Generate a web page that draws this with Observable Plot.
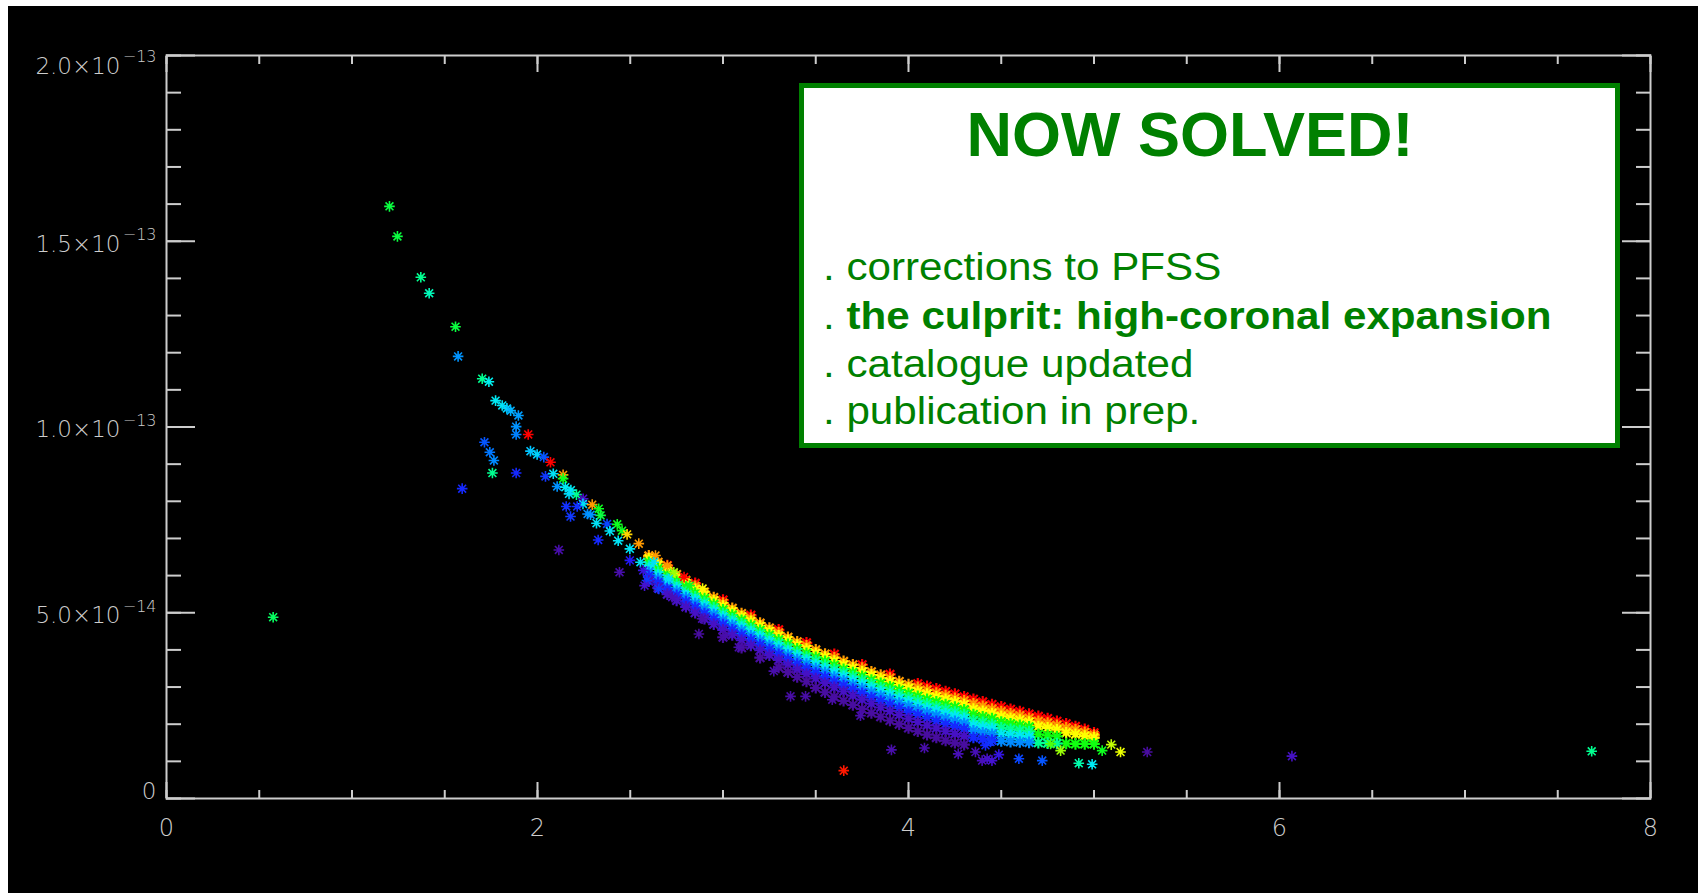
<!DOCTYPE html>
<html><head><meta charset="utf-8">
<script src="https://cdn.jsdelivr.net/npm/d3@7"></script>
<script src="https://cdn.jsdelivr.net/npm/@observablehq/plot@0.6"></script>
<style>
html,body{margin:0;padding:0;background:#fff;overflow:hidden;width:1698px;height:893px;}
#chart{position:absolute;left:8px;top:6px;width:1690px;height:887px;background:#000;}
#note{position:absolute;left:0;top:0;}
</style></head><body>
<div id="chart"></div>
<svg id="note" width="1698" height="893"></svg>
<script>
// ---------- data (y in units of 1e-14) ----------
const bandX = [2.60,2.65,2.70,2.75,2.80,2.85,2.90,2.95,3.00,3.05,
  3.10,3.15,3.20,3.25,3.30,3.35,3.40,3.45,3.50,3.55,
  3.60,3.65,3.70,3.75,3.80,3.85,3.90,3.95,4.00,4.05,
  4.10,4.15,4.20,4.25,4.30,4.35,4.40,4.45,4.50,4.55,
  4.60,4.65,4.70,4.75,4.80,4.85,4.90,4.95,5.00];
const bandRed = [null,null,6.27,null,null,5.79,null,null,5.34,null,
  null,4.93,null,null,4.54,null,null,4.19,null,null,
  3.88,null,null,3.60,null,null,3.34,null,null,3.09,
  3.02,2.95,2.88,2.81,2.74,2.67,2.60,2.53,2.47,2.40,
  2.34,2.27,2.21,2.15,2.08,2.01,1.94,1.86,1.77];
const bandOrange = [6.53,6.36,6.19,6.03,5.87,5.71,5.56,5.41,5.26,5.12,
  4.98,4.85,4.72,4.59,4.46,4.34,4.22,4.11,4.00,3.89,
  3.79,3.69,3.60,3.51,3.41,3.32,3.24,3.15,3.07,2.99,
  2.92,2.84,2.77,2.70,2.63,2.55,2.48,2.41,2.34,2.28,
  2.23,2.16,2.08,2.03,1.97,1.90,1.85,1.78,1.71];
const bandYellow = [6.46,6.29,6.12,5.95,5.79,5.63,5.48,5.33,5.18,5.04,
  4.90,4.77,4.64,4.51,4.38,4.26,4.13,4.02,3.91,3.81,
  3.70,3.60,3.51,3.41,3.32,3.23,3.14,3.05,2.97,2.88,
  2.81,2.74,2.67,2.60,2.53,2.41,2.35,2.29,2.21,2.16,
  2.11,2.06,1.94,1.90,1.85,1.77,1.73,1.68,1.64];
const bandGreen = [6.36,6.19,6.02,5.85,5.69,5.53,5.38,5.23,5.08,4.94,
  4.80,4.66,4.53,4.40,4.27,4.15,4.03,3.91,3.80,3.69,
  3.59,3.48,3.39,3.29,3.19,3.10,3.01,2.92,2.83,2.75,
  2.67,2.60,2.53,2.46,2.39,2.26,2.20,2.15,2.06,2.01,
  1.97,1.93,1.73,1.70,1.67,1.48,1.47,1.47,1.47];
const bandTeal = [6.27,6.09,5.92,5.76,5.59,5.43,5.28,5.13,4.98,4.84,
  4.70,4.57,4.44,4.31,4.18,4.05,3.93,3.81,3.70,3.59,
  3.48,3.38,3.28,3.18,3.08,2.98,2.89,2.80,2.71,2.63,
  2.55,2.47,2.40,2.33,2.26,2.10,2.05,2.00,1.90,1.86,
  1.83,1.80,1.50,1.49,1.48,null,null,null,null];
const bandCyan = [6.18,6.01,5.84,5.67,5.51,5.35,5.19,5.04,4.89,4.75,
  4.61,4.48,4.35,4.22,4.09,3.96,3.84,3.72,3.60,3.49,
  3.38,3.28,3.17,3.07,2.97,2.88,2.79,2.69,2.60,2.51,
  2.43,2.36,2.28,2.21,2.15,1.97,1.92,1.88,1.73,1.70,
  1.68,1.66,null,null,null,null,null,null,null];
const bandAzure = [6.09,5.92,5.75,5.58,5.41,5.25,5.10,4.95,4.80,4.66,
  4.52,4.38,4.25,4.12,3.99,3.86,3.74,3.62,3.50,3.39,
  3.27,3.17,3.06,2.96,2.86,2.76,2.67,2.57,2.48,2.39,
  2.31,2.23,2.15,2.08,2.02,1.82,1.77,1.73,1.55,1.53,
  1.52,1.51,null,null,null,null,null,null,null];
const bandBlue = [5.99,5.81,5.64,5.47,5.30,5.14,4.98,4.83,4.68,4.54,
  4.40,4.27,4.14,4.01,3.88,3.75,3.62,3.50,3.38,3.27,
  3.15,3.04,2.94,2.83,2.72,2.62,2.53,2.43,2.33,2.25,
  2.16,2.08,2.00,1.93,1.87,1.64,1.60,1.57,null,null,
  null,null,null,null,null,null,null,null,null];
const bandPurple = [5.85,5.67,5.50,5.33,5.16,5.00,4.84,4.69,4.54,4.40,
  4.26,4.12,3.99,3.86,3.73,3.60,3.47,3.35,3.23,3.11,
  2.99,2.88,2.77,2.66,2.55,2.45,2.35,2.25,2.15,2.06,
  1.97,1.89,1.81,1.74,1.68,null,null,null,null,null,
  null,null,null,null,null,null,null,null,null];
const bandViolet = [null,null,null,null,null,null,null,null,4.34,null,
  4.06,null,3.79,null,3.53,3.40,3.27,3.15,2.98,2.86,
  2.74,2.63,2.52,2.41,2.30,2.20,2.10,2.00,1.90,1.81,
  1.72,1.64,1.56,1.50,1.45,null,null,null,null,null,
  null,null,null,null,null,null,null,null,null];
// colour value of each band layer (0 = violet ... 1 = red), drawn in this order
const bandLayers = [[bandRed,1.00],[bandOrange,0.87],[bandYellow,0.75],[bandGreen,0.63],
  [bandTeal,0.55],[bandCyan,0.47],[bandAzure,0.36],[bandBlue,0.24],[bandPurple,0.10],[bandViolet,0.04]];

// individual points: [x, y (1e-14), colour value]
const scatterPts = [
  [0.575,4.88,0.58],[1.202,15.94,0.60],[1.245,15.13,0.60],[1.371,14.03,0.55],[1.416,13.60,0.52],
  [1.558,12.70,0.60],[1.572,11.90,0.37],[1.702,11.30,0.55],[1.738,11.22,0.48],[1.774,10.71,0.47],
  [1.810,10.58,0.46],[1.835,10.50,0.44],[1.855,10.44,0.40],[1.897,10.31,0.38],[1.885,10.01,0.37],
  [1.885,9.80,0.35],[1.950,9.80,1.00],[1.714,9.59,0.30],[1.743,9.32,0.34],[1.765,9.10,0.36],
  [1.757,8.76,0.55],[1.885,8.76,0.24],[1.594,8.34,0.24],[1.962,9.35,0.42],[1.998,9.26,0.44],
  [2.034,9.19,0.30],[2.070,9.05,1.00],[2.043,8.67,0.26],[2.085,8.74,0.46],[2.138,8.71,0.87],
  [2.138,8.61,0.62],[2.106,8.40,0.37],[2.150,8.38,0.47],[2.180,8.30,0.47],[2.210,8.18,0.55],
  [2.170,8.20,0.45],[2.246,8.07,0.10],[2.245,7.93,0.45],[2.295,7.91,0.87],[2.330,7.80,0.62],
  [2.340,7.62,0.60],[2.155,7.86,0.25],[2.178,7.59,0.26],[2.214,7.86,0.25],[2.270,7.66,0.36],
  [2.286,7.64,0.37],[2.318,7.41,0.46],[2.375,7.39,0.28],[2.430,7.38,0.62],[2.390,7.20,0.46],
  [2.456,7.21,0.62],[2.483,7.11,0.80],[2.435,6.94,0.46],[2.327,6.96,0.24],[2.115,6.69,0.06],
  [2.442,6.09,0.06],[2.498,6.72,0.46],[2.546,6.86,0.87],[2.498,6.41,0.20],[2.555,6.36,0.46],
  [2.570,6.14,0.15],[2.590,5.87,0.26],[2.636,6.54,0.87],[2.627,6.36,0.46],[2.577,5.73,0.12],
  [2.654,5.64,0.26],[2.700,6.27,0.87],[2.735,6.09,0.70],[2.708,5.91,0.46],[2.726,5.42,0.08],
  [2.790,5.96,1.00],[2.820,5.73,0.62],[2.890,5.65,0.76],[2.887,4.84,0.06],[2.870,4.43,0.04],
  [3.013,4.39,0.06],[3.085,4.07,0.06],[3.274,3.43,0.06],[3.364,2.75,0.05],[3.445,2.75,0.05],
  [3.589,2.66,0.05],[3.741,2.23,0.06],[3.908,1.31,0.06],[4.086,1.36,0.06],[4.268,1.20,0.08],
  [3.651,0.75,0.98],[4.361,1.25,0.08],[4.397,1.02,0.08],[4.424,1.07,0.10],[4.450,1.02,0.12],
  [4.487,1.18,0.16],[4.415,1.43,0.24],[4.442,1.52,0.26],[4.595,1.07,0.28],[4.721,1.02,0.30],
  [4.918,0.95,0.53],[4.990,0.92,0.47],[4.766,1.47,0.66],[4.820,1.29,0.70],[5.044,1.29,0.62],
  [5.093,1.45,0.72],[5.143,1.25,0.74],[5.287,1.25,0.04],[6.067,1.14,0.10],[7.683,1.27,0.55]
];

// colour table (IDL-like rainbow)
const colorStops = [0, 0.12, 0.22, 0.32, 0.42, 0.48, 0.55, 0.63, 0.75, 0.87, 1];
const colorRamp = ["#4a0a86","#4512d0","#1a1aff","#0064ff","#00c4ff","#00f0f0","#00ff90","#10ff10","#ffff00","#ff9a00","#ff0000"];

// axis ticks and labels
const xMajorTicks = [0, 2, 4, 6, 8];
const xMinorTicks = [0,0.5,1,1.5,2,2.5,3,3.5,4,4.5,5,5.5,6,6.5,7,7.5,8];
const yMajorTicks = [0, 5e-14, 1e-13, 1.5e-13, 2e-13];
const yMinorTicks = Array.from({length: 21}, (_, i) => i * 1e-14);
const yLabelValues = [5e-14, 1e-13, 1.5e-13];
const yLabelBase = ["5.0×10", "1.0×10", "1.5×10"];
const yLabelExp = ["−14", "−13", "−13"];
const yTopValue = [2e-13], yTopBase = ["2.0×10"], yTopExp = ["−13"];
const xLabels = ["0", "2", "4", "6", "8"];

const noteTitle = "NOW SOLVED!";
const noteLines = [". corrections to PFSS", ". the culprit: high-coronal expansion", ". catalogue updated", ". publication in prep."];
const noteBold = [false, true, false, false];

// ---------- build tables ----------
const bandRows = [];
for (const [ys, c] of bandLayers) {
  ys.forEach((v, i) => { if (v != null) bandRows.push({x: bandX[i], y: v * 1e-14, c}); });
}
const pointRows = scatterPts.map(([x, y, c]) => ({x, y: y * 1e-14, c}));

const star8 = {
  draw(ctx, size) {
    const r = Math.sqrt(size / Math.PI);
    const d = r * 0.74;
    ctx.moveTo(-r, 0); ctx.lineTo(r, 0);
    ctx.moveTo(0, -r); ctx.lineTo(0, r);
    ctx.moveTo(-d, -d); ctx.lineTo(d, d);
    ctx.moveTo(-d, d); ctx.lineTo(d, -d);
  }
};

const axisColor = "#cdcdcd";
const labelFont = "DejaVu Sans";
const tickOpts = {fill: "none", stroke: axisColor, strokeWidth: 2, label: null};

const chart = Plot.plot({
  width: 1690, height: 887,
  marginLeft: 158, marginRight: 48, marginTop: 49, marginBottom: 95,
  style: {background: "#000", color: axisColor, overflow: "visible"},
  x: {domain: [0, 8]},
  y: {domain: [0, 2e-13]},
  color: {type: "linear", domain: colorStops, range: colorRamp, legend: false},
  marks: [
    Plot.dot(bandRows, {x: "x", y: "y", stroke: "c", symbol: star8, r: 5.8, strokeWidth: 2.2}),
    Plot.dot(pointRows, {x: "x", y: "y", stroke: "c", symbol: star8, r: 5.3, strokeWidth: 1.6}),
    Plot.frame({stroke: axisColor, strokeWidth: 2}),
    Plot.axisY({...tickOpts, anchor: "left", ticks: yMinorTicks, tickSize: -15}),
    Plot.axisY({...tickOpts, anchor: "left", ticks: yMajorTicks, tickSize: -29}),
    Plot.axisY({...tickOpts, anchor: "right", ticks: yMinorTicks, tickSize: -15}),
    Plot.axisY({...tickOpts, anchor: "right", ticks: yMajorTicks, tickSize: -29}),
    Plot.axisX({...tickOpts, anchor: "bottom", ticks: xMinorTicks, tickSize: -8}),
    Plot.axisX({...tickOpts, anchor: "bottom", ticks: xMajorTicks, tickSize: -16}),
    Plot.axisX({...tickOpts, anchor: "top", ticks: xMinorTicks, tickSize: -8}),
    Plot.axisX({...tickOpts, anchor: "top", ticks: xMajorTicks, tickSize: -16}),
    // y tick labels
    Plot.text(yLabelValues, {x: 0, y: d => d, text: (d, i) => yLabelBase[i], textAnchor: "end", dx: -46, dy: 3,
      fontSize: 23, fontFamily: labelFont, fontWeight: 200, fill: axisColor}),
    Plot.text(yLabelValues, {x: 0, y: d => d, text: (d, i) => yLabelExp[i], textAnchor: "end", dx: -10, dy: -6,
      fontSize: 16, fontFamily: labelFont, fontWeight: 200, fill: axisColor}),
    Plot.text(yTopValue, {x: 0, y: d => d, text: (d, i) => yTopBase[i], textAnchor: "end", dx: -46, dy: 11,
      fontSize: 23, fontFamily: labelFont, fontWeight: 200, fill: axisColor}),
    Plot.text(yTopValue, {x: 0, y: d => d, text: (d, i) => yTopExp[i], textAnchor: "end", dx: -10, dy: 1,
      fontSize: 16, fontFamily: labelFont, fontWeight: 200, fill: axisColor}),
    Plot.text([0], {x: 0, y: d => d, text: () => "0", textAnchor: "end", dx: -10, dy: -7,
      fontSize: 23, fontFamily: labelFont, fontWeight: 200, fill: axisColor}),
    // x tick labels
    Plot.text(xMajorTicks, {x: d => d, y: 0, text: (d, i) => xLabels[i], dy: 30,
      fontSize: 24, fontFamily: labelFont, fontWeight: 200, fill: axisColor})
  ]
});
document.getElementById("chart").appendChild(chart);

// ---------- annotation box ----------
const note = d3.select("#note");
note.append("rect").attr("x", 801.5).attr("y", 85.5).attr("width", 816).attr("height", 360)
  .attr("fill", "#fff").attr("stroke", "#008000").attr("stroke-width", 5);
note.append("text").attr("x", 1190).attr("y", 156).attr("text-anchor", "middle")
  .attr("font-family", "Liberation Sans, Arial, sans-serif").attr("font-weight", "bold")
  .attr("font-size", 63).attr("fill", "#008000").text(noteTitle);
const baselines = [280, 329, 377, 424];
noteLines.forEach((line, i) => {
  const t = note.append("text")
    .attr("transform", `translate(823,${baselines[i]}) scale(1.11,1)`)
    .attr("font-family", "Liberation Sans, Arial, sans-serif")
    .attr("font-size", 38).attr("fill", "#008000");
  if (noteBold[i]) {
    t.append("tspan").text(line.slice(0, 2));
    t.append("tspan").attr("font-weight", "bold").text(line.slice(2));
  } else {
    t.text(line);
  }
});
</script>
</body></html>
